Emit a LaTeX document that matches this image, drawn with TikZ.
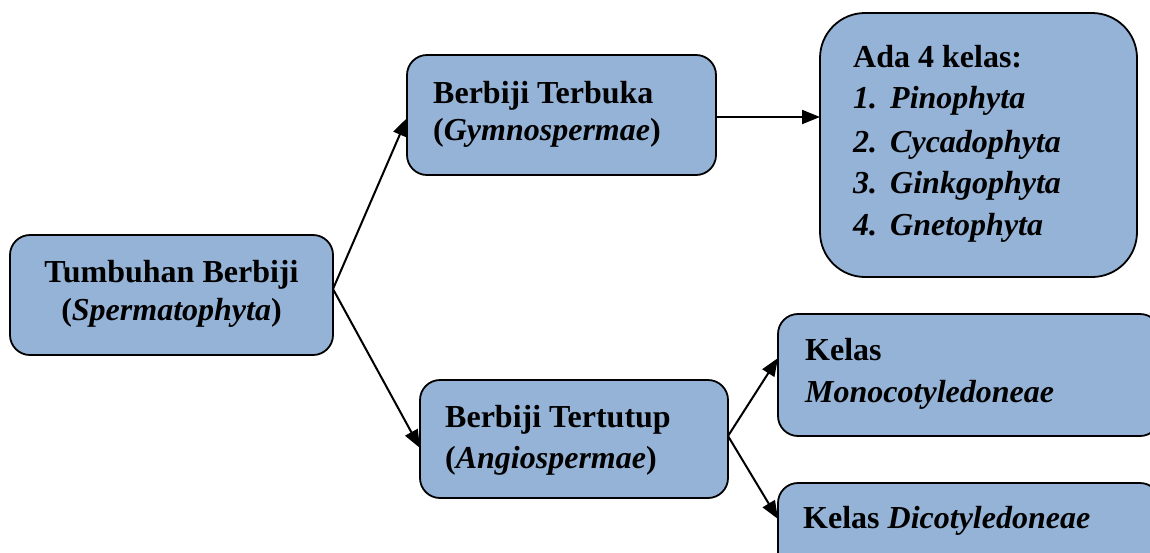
\documentclass[tikz,border=0pt]{standalone}
\usepackage{fontspec}
\setmainfont{Liberation Serif}
\usetikzlibrary{arrows.meta}
\definecolor{boxblue}{HTML}{95B3D7}
\tikzset{
  box/.style={draw=black, line width=1.8pt, fill=boxblue, rounded corners=20pt},
  txt/.style={anchor=base west, inner sep=0pt, font=\fontsize{32}{36}\selectfont\bfseries},
  ctxt/.style={txt, anchor=base},
  conn/.style={line width=2pt, -{Triangle[length=18pt,width=14pt]}}
}
\begin{document}
\begin{tikzpicture}[x=1pt,y=-1pt]
\useasboundingbox (0,0) rectangle (1150,552);
\clip (0,0) rectangle (1150,552);
% boxes
\draw[box] (10,235) rectangle (333,355);
\node[inner sep=0pt, minimum width=323pt, minimum height=120pt] (b1) at (171.5,295) {};
\draw[box] (407,55) rectangle (716,175);
\node[inner sep=0pt, minimum width=309pt, minimum height=120pt] (b2) at (561.5,115) {};
\draw[box, rounded corners=45pt] (820,13) rectangle (1137,277);
\node[inner sep=0pt, minimum width=317pt, minimum height=264pt] (b3) at (978.5,145) {};
\draw[box] (420,380) rectangle (728,498);
\node[inner sep=0pt, minimum width=308pt, minimum height=118pt] (b4) at (574,439) {};
\draw[box] (778,314) rectangle (1160,436);
\node[inner sep=0pt, minimum width=382pt, minimum height=122pt] (b5) at (969,375) {};
\draw[box] (778,483) rectangle (1160,590);
\node[inner sep=0pt, minimum width=382pt, minimum height=107pt] (b6) at (969,536.5) {};
% texts
\node[ctxt] (t1a) at (171.5,282) {Tumbuhan Berbiji};
\node[ctxt] (t1b) at (171.5,320) {(\textit{Spermatophyta})};
\node[txt] (t2a) at (433,103) {Berbiji Terbuka};
\node[txt] (t2b) at (433,140) {(\textit{Gymnospermae})};
\node[txt] (t3a) at (853,67) {Ada 4 kelas:};
\node[txt] (t3n1) at (853,108) {\itshape 1.};
\node[txt] (t3c1) at (890,108) {\itshape Pinophyta};
\node[txt] (t3n2) at (853,152) {\itshape 2.};
\node[txt] (t3c2) at (890,152) {\itshape Cycadophyta};
\node[txt] (t3n3) at (853,193) {\itshape 3.};
\node[txt] (t3c3) at (890,193) {\itshape Ginkgophyta};
\node[txt] (t3n4) at (853,235) {\itshape 4.};
\node[txt] (t3c4) at (890,235) {\itshape Gnetophyta};
\node[txt] (t4a) at (445,427) {Berbiji Tertutup};
\node[txt] (t4b) at (445,468) {(\textit{Angiospermae})};
\node[txt] (t5a) at (805,360) {Kelas};
\node[txt] (t5b) at (805,402) {\textit{Monocotyledoneae}};
\node[txt] (t6a) at (803,528) {Kelas \textit{Dicotyledoneae}};
% connector points
\coordinate (s1) at (333,289);
\coordinate (e2) at (407,118);
\coordinate (e4) at (420,448);
\coordinate (s4) at (728,436);
\coordinate (e5) at (778,358);
\coordinate (e6) at (778,519);
\coordinate (s2) at (716,117);
\coordinate (e3) at (820,117);
% connectors
\draw[conn] (s1) -- (e2);
\draw[conn] (s1) -- (e4);
\draw[conn] (s2) -- (e3);
\draw[conn] (s4) -- (e5);
\draw[conn] (s4) -- (e6);
\end{tikzpicture}
\end{document}
